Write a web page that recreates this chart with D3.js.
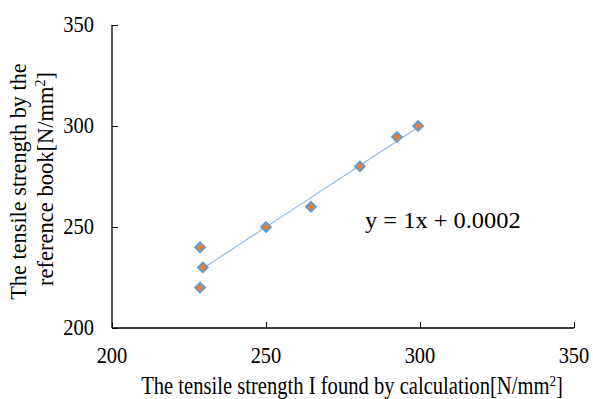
<!DOCTYPE html>
<html>
<head>
<meta charset="utf-8">
<script src="https://cdn.jsdelivr.net/npm/d3@7"></script>
<style>
  body { margin: 0; background: #fff; }
</style>
</head>
<body>
<figure id="scatter" style="margin:0"></figure>
<script>
// values
const calcStrength = [228.6, 229.5, 228.6, 250, 264.6, 280.5, 292.5, 299.4];
const bookStrength = [240, 230, 220, 250, 260, 280, 294.5, 300];
const xTicks = [200, 250, 300, 350];
const yTicks = [200, 250, 300, 350];
const trendSlope = 1;
const trendIntercept = 0.0002;
const trendLabel = "y = 1x + 0.0002";

const serif = "'Liberation Serif', 'Times New Roman', serif";
const width = 593, height = 399;
const margin = { left: 112, right: 19, top: 25, bottom: 71 };

const svg = d3.select("figure#scatter")
  .append("svg")
  .attr("width", width)
  .attr("height", height)
  .style("font-family", serif);

const x = d3.scaleLinear()
  .domain([200, 350])
  .range([margin.left, width - margin.right]);

const y = d3.scaleLinear()
  .domain([200, 350])
  .range([height - margin.bottom, margin.top]);

// the source picture is a bit stretched, so text gets a scale too
function label(parent, tx, ty, sx, sy, size, anchor) {
  return parent.append("text")
    .attr("transform", "translate(" + tx + "," + ty + ") scale(" + sx + "," + sy + ")")
    .attr("text-anchor", anchor)
    .style("font-family", serif)
    .style("font-size", size + "px")
    .attr("fill", "#000");
}

// x axis, ticks pointing inward
const xAxis = svg.append("g")
  .attr("transform", "translate(0," + y(200) + ")")
  .call(d3.axisTop(x).tickValues(xTicks).tickSize(6).tickFormat(""));
xAxis.select(".domain").remove();
xAxis.selectAll("line").attr("stroke", "#000");
svg.append("line")
  .attr("x1", x(200)).attr("x2", x(350))
  .attr("y1", y(200)).attr("y2", y(200))
  .attr("stroke", "#000").attr("stroke-width", 1.3);

xTicks.forEach(d => {
  label(svg, x(d), y(200) + 35, 1, 1.15, 20.5, "middle").text(d);
});

// y axis
const yAxis = svg.append("g")
  .attr("transform", "translate(" + x(200) + ",0)")
  .call(d3.axisRight(y).tickValues(yTicks).tickSize(6).tickFormat(""));
yAxis.select(".domain").remove();
yAxis.selectAll("line").attr("stroke", "#000");
svg.append("line")
  .attr("x1", x(200)).attr("x2", x(200))
  .attr("y1", y(200)).attr("y2", y(350))
  .attr("stroke", "#000").attr("stroke-width", 1.3);

yTicks.forEach(d => {
  label(svg, x(200) - 18, y(d) + 6.5, 1, 1.15, 20.5, "end").text(d);
});

// axis titles
const xTitle = label(svg, 352, 394, 1, 1.18, 20.6, "middle")
  .text("The tensile strength I found by calculation[N/mm");
xTitle.append("tspan").attr("dy", -7).style("font-size", "13px").text("2");
xTitle.append("tspan").attr("dy", 7).text("]");

const yTitle = svg.append("g")
  .attr("transform", "translate(0,180) rotate(-90)");
label(yTitle, -1.5, 25.5, 1, 1, 22.3, "middle")
  .text("The tensile strength by the");
const yLine2 = label(yTitle, 1, 52.5, 1, 1, 22.5, "middle")
  .text("reference book[N/mm");
yLine2.append("tspan").attr("dy", -8).style("font-size", "14px").text("2");
yLine2.append("tspan").attr("dy", 8).text("]");

// linear trendline across the data range
const xExt = d3.extent(calcStrength);
svg.append("line")
  .attr("x1", x(xExt[0]))
  .attr("y1", y(trendSlope * xExt[0] + trendIntercept))
  .attr("x2", x(xExt[1]))
  .attr("y2", y(trendSlope * xExt[1] + trendIntercept))
  .attr("stroke", "#8fb9e3")
  .attr("stroke-width", 1.2);

label(svg, 365, 228, 1.1, 1, 22.2, "start").text(trendLabel);

// diamond markers
const diamond = d3.symbol().type(d3.symbolDiamond2).size(62);
svg.selectAll(".pt")
  .data(calcStrength)
  .enter()
  .append("path")
  .attr("d", diamond)
  .attr("transform", (d, i) => "translate(" + x(d) + "," + y(bookStrength[i]) + ")")
  .attr("fill", "#ed7d31")
  .attr("stroke", "#5b9bd5")
  .attr("stroke-width", 1.8);
</script>
</body>
</html>
